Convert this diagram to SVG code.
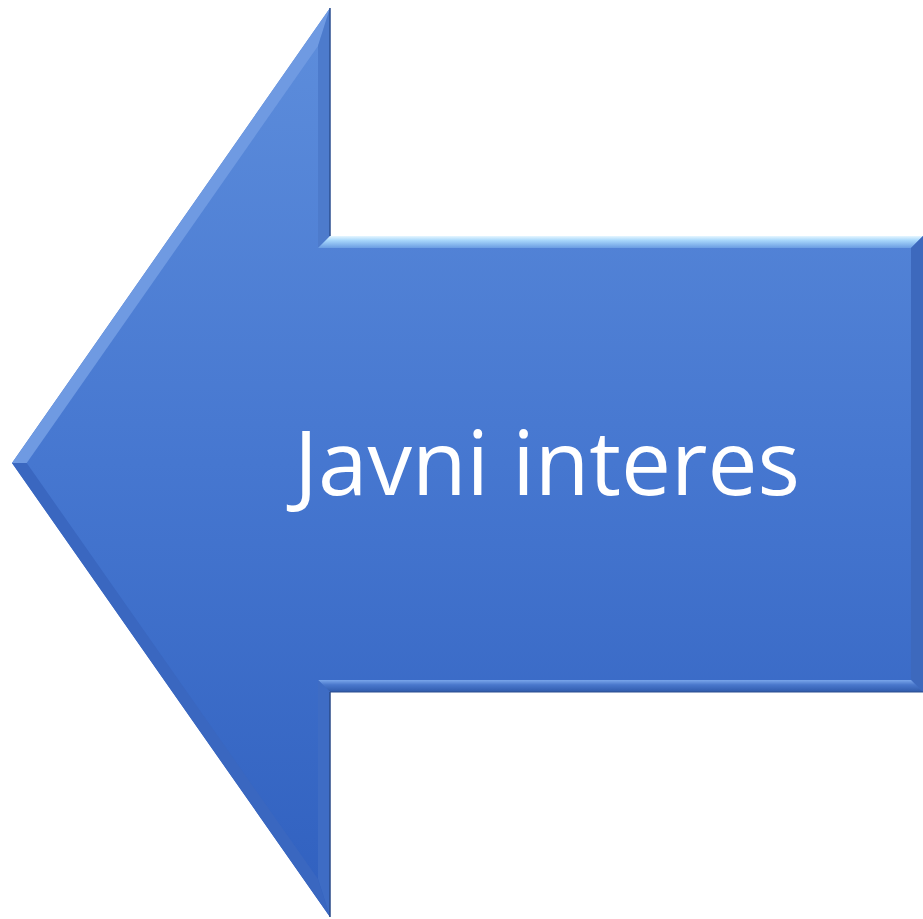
<svg xmlns="http://www.w3.org/2000/svg" width="923" height="919" viewBox="0 0 923 919">
<defs>
<linearGradient id="body" x1="0" y1="8" x2="0" y2="917" gradientUnits="userSpaceOnUse">
<stop offset="0" stop-color="#5e8edc"/>
<stop offset="0.5" stop-color="#4677d0"/>
<stop offset="1" stop-color="#3060bf"/>
</linearGradient>
<linearGradient id="topBevel" x1="0" y1="236" x2="0" y2="248" gradientUnits="userSpaceOnUse">
<stop offset="0" stop-color="#e6f6ff"/>
<stop offset="0.35" stop-color="#a9d8fb"/>
<stop offset="1" stop-color="#6a9de3"/>
</linearGradient>
<linearGradient id="botBevel" x1="0" y1="680" x2="0" y2="692" gradientUnits="userSpaceOnUse">
<stop offset="0" stop-color="#7aa6ea"/>
<stop offset="0.4" stop-color="#4a78cc"/>
<stop offset="1" stop-color="#2f5aab"/>
</linearGradient>
<style>
.out{stroke:none}
.txt{font-family:"Open Sans","Liberation Sans",Arial,sans-serif;font-size:90px;fill:#ffffff}
</style>
</defs>
<g id="arrow">
<polygon class="out" fill="url(#body)" points="12,463 330,8 330,236 923,236 923,692 330,692 330,917"/>
<polygon fill="#6f9ae2" points="12,463 330,8 318,46 26.7,463"/>
<polygon fill="#4d7bcc" points="330,8 330,236 318,248 318,46"/>
<polygon fill="url(#topBevel)" points="330,236 923,236 911,248 318,248"/>
<polygon fill="#3d69bd" points="923,236 923,692 911,680 911,248"/>
<polygon fill="url(#botBevel)" points="923,692 330,692 318,680 911,680"/>
<polygon fill="#3e6cc4" points="330,692 330,917 318,879 318,680"/>
<polygon fill="#3a67c0" points="330,917 12,463 26.7,463 318,879"/>
<line x1="330" y1="8" x2="330" y2="236" stroke="#2d4f90" stroke-width="1.5"/>
<line x1="330" y1="692" x2="330" y2="917" stroke="#2a4a88" stroke-width="1.5"/>
<line x1="330" y1="692" x2="923" y2="692" stroke="#2d4f90" stroke-width="1.2"/>
<text class="txt" x="294" y="495" textLength="506" lengthAdjust="spacingAndGlyphs">Javni interes</text>
</g>
</svg>
